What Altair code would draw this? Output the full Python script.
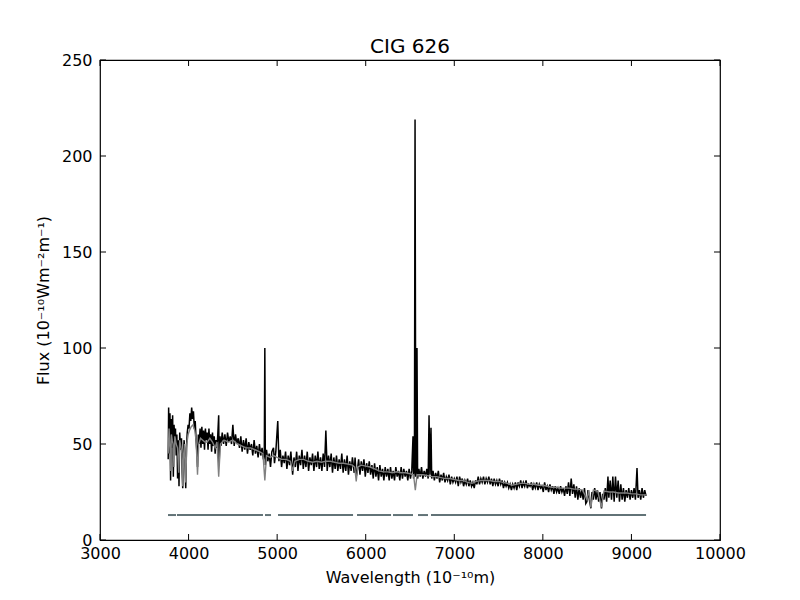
import altair as alt
import pandas as pd

# ---------------- data ----------------
obs_wave = [3770, 3775, 3782, 3790, 3797, 3805, 3812, 3820, 3828, 3836, 3845, 3852, 3860, 3868, 3876, 3884, 3892, 3900, 3910, 3920,
            3928, 3934, 3942, 3950, 3960, 3968, 3976, 3985, 3995, 4005, 4015, 4025, 4035, 4045, 4055, 4065, 4075, 4085, 4095, 4101,
            4110, 4120, 4130, 4140, 4150, 4160, 4170, 4180, 4190, 4200, 4210, 4220, 4230, 4240, 4250, 4260, 4270, 4280, 4290, 4300,
            4310, 4320, 4330, 4340, 4345, 4355, 4365, 4380, 4395, 4410, 4425, 4440, 4455, 4470, 4485, 4500, 4515, 4530, 4545, 4560,
            4575, 4590, 4605, 4620, 4635, 4650, 4665, 4680, 4695, 4710, 4725, 4740, 4755, 4770, 4785, 4800, 4815, 4830, 4845, 4855,
            4861, 4867, 4880, 4895, 4910, 4925, 4940, 4959, 4970, 4985, 5007, 5020, 5035, 5050, 5065, 5080, 5095, 5110, 5125, 5140,
            5155, 5175, 5190, 5205, 5220, 5235, 5250, 5265, 5280, 5295, 5310, 5325, 5340, 5355, 5370, 5385, 5400, 5415, 5430, 5445,
            5460, 5475, 5490, 5505, 5520, 5535, 5550, 5565, 5580, 5595, 5610, 5625, 5640, 5655, 5670, 5685, 5700, 5715, 5730, 5745,
            5760, 5775, 5790, 5805, 5820, 5835, 5850, 5870, 5880, 5893, 5905, 5920, 5935, 5950, 5965, 5980, 5995, 6010, 6025, 6040,
            6055, 6070, 6085, 6100, 6115, 6130, 6145, 6160, 6175, 6190, 6205, 6220, 6235, 6250, 6265, 6280, 6295, 6310, 6325, 6340,
            6355, 6370, 6385, 6400, 6415, 6430, 6445, 6460, 6475, 6490, 6505, 6520, 6534, 6540, 6550, 6557, 6565, 6572, 6579, 6586,
            6600, 6615, 6630, 6645, 6660, 6675, 6690, 6705, 6715, 6725, 6737, 6745, 6760, 6775, 6790, 6805, 6820, 6835, 6850, 6865,
            6880, 6895, 6910, 6925, 6940, 6955, 6970, 6985, 7000, 7015, 7030, 7045, 7060, 7075, 7090, 7105, 7120, 7135, 7150, 7165,
            7180, 7195, 7210, 7225, 7240, 7255, 7270, 7285, 7300, 7315, 7330, 7345, 7360, 7375, 7390, 7405, 7420, 7435, 7450, 7465,
            7480, 7495, 7510, 7525, 7540, 7555, 7570, 7585, 7600, 7615, 7630, 7645, 7660, 7675, 7690, 7705, 7720, 7735, 7750, 7765,
            7780, 7795, 7810, 7825, 7840, 7855, 7870, 7885, 7900, 7915, 7930, 7945, 7960, 7975, 7990, 8005, 8020, 8035, 8050, 8065,
            8080, 8095, 8110, 8125, 8140, 8155, 8170, 8185, 8200, 8215, 8230, 8245, 8260, 8275, 8290, 8305, 8320, 8335, 8350, 8365,
            8380, 8395, 8410, 8425, 8440, 8455, 8470, 8485, 8498, 8510, 8525, 8542, 8555, 8570, 8585, 8600, 8615, 8630, 8645, 8662,
            8675, 8690, 8705, 8720, 8735, 8745, 8760, 8775, 8790, 8805, 8820, 8835, 8850, 8865, 8880, 8895, 8910, 8925, 8940, 8955,
            8970, 8985, 9000, 9015, 9030, 9045, 9063, 9075, 9090, 9105, 9120, 9135, 9150, 9165]
obs_flux = [42, 69, 45, 66, 31, 63, 48, 65, 33, 60, 50, 58, 44, 55, 32, 52, 28, 56, 47, 53,
            35, 27, 45, 52, 40, 27, 48, 56, 60, 58, 66, 62, 69, 63, 67, 58, 62, 52, 45, 38,
            55, 50, 58, 48, 59, 50, 57, 47, 58, 52, 56, 47, 58, 50, 55, 46, 56, 49, 54, 45,
            52, 48, 55, 65, 40, 54, 49, 56, 50, 55, 49, 56, 51, 54, 50, 60, 49, 55, 50, 53,
            48, 54, 46, 52, 47, 53, 45, 51, 47, 50, 44, 52, 45, 49, 43, 50, 44, 48, 42, 45,
            100, 39, 47, 41, 45, 38, 46, 48, 40, 46, 62, 41, 47, 38, 44, 40, 46, 37, 44, 39,
            46, 34, 43, 38, 46, 36, 44, 39, 47, 37, 44, 38, 46, 36, 43, 39, 45, 36, 44, 38,
            46, 37, 43, 36, 45, 38, 57, 36, 44, 38, 45, 35, 43, 37, 44, 36, 42, 37, 45, 35,
            42, 36, 44, 34, 41, 36, 43, 35, 43, 33, 36, 42, 34, 41, 36, 42, 33, 40, 35, 41,
            34, 39, 32, 40, 33, 38, 31, 39, 33, 37, 31, 38, 33, 37, 31, 38, 32, 36, 31, 38,
            33, 36, 31, 38, 32, 37, 33, 36, 31, 37, 32, 36, 54, 32, 36, 219, 33, 37, 100, 32,
            37, 33, 38, 32, 36, 33, 37, 32, 65, 34, 58.5, 32, 36, 31, 35, 32, 36, 30, 34, 31,
            35, 30, 33, 31, 34, 29, 33, 30, 32, 30, 33, 28, 33, 30, 32, 28, 31, 29, 32, 28,
            31, 28, 30, 27, 31, 29, 33, 29, 32, 30, 33, 29, 32, 30, 33, 29, 32, 28, 32, 29,
            31, 28, 32, 29, 31, 27, 30, 28, 30, 27, 29, 26, 29, 27, 30, 26, 30, 28, 31, 27,
            30, 28, 31, 27, 29, 28, 30, 26, 29, 27, 30, 26, 29, 27, 28, 25, 30, 26, 28, 25,
            29, 26, 28, 24, 28, 25, 27, 24, 28, 25, 27, 23, 28, 24, 30, 23, 32, 24, 29, 22,
            28, 21, 27, 22, 26, 21, 27, 19, 20, 26, 21, 16.5, 25, 21, 27, 21, 26, 20, 25, 16.5,
            24, 21, 27, 20, 33, 22, 31, 21, 33, 20, 33, 22, 31, 20, 29, 21, 27, 20, 26, 22,
            27, 21, 26, 22, 27, 21, 37.5, 22, 26, 21, 27, 22, 26, 23]

mod_wave = [3770, 3780, 3790, 3798, 3806, 3815, 3825, 3835, 3845, 3860, 3875, 3889, 3900, 3915, 3925, 3934, 3945, 3955, 3968, 3980,
            3995, 4010, 4030, 4050, 4070, 4085, 4101, 4115, 4135, 4160, 4185, 4210, 4240, 4270, 4300, 4320, 4340, 4360, 4400, 4450,
            4500, 4550, 4600, 4650, 4700, 4750, 4800, 4840, 4861, 4880, 4920, 4960, 5000, 5050, 5100, 5150, 5175, 5200, 5250, 5300,
            5350, 5400, 5450, 5500, 5550, 5600, 5650, 5700, 5750, 5800, 5850, 5875, 5893, 5910, 5950, 6000, 6050, 6100, 6150, 6200,
            6250, 6300, 6350, 6400, 6450, 6500, 6540, 6560, 6580, 6650, 6700, 6750, 6800, 6850, 6900, 6950, 7000, 7050, 7100, 7150,
            7200, 7250, 7300, 7350, 7400, 7450, 7500, 7550, 7600, 7650, 7700, 7750, 7800, 7850, 7900, 7950, 8000, 8050, 8100, 8150,
            8200, 8250, 8300, 8350, 8400, 8450, 8498, 8520, 8542, 8570, 8620, 8662, 8690, 8750, 8800, 8850, 8900, 8950, 9000, 9050,
            9100, 9165]
mod_flux = [45, 58, 48, 36, 55, 52, 50, 38, 54, 50, 48, 35, 52, 48, 45, 28, 45, 50, 30, 50,
            55, 57, 59, 60, 57, 52, 34, 50, 53, 52, 51, 51, 53, 51, 48, 51, 33, 50, 52, 51,
            52, 50, 49, 48, 48, 47, 46, 45, 31, 44, 43, 44, 43, 42, 42, 41, 36, 41, 42, 42,
            41, 40.5, 41, 40.5, 41, 41, 40.5, 40, 40, 39.5, 39, 38, 30.5, 38, 39, 38.5, 38, 37, 36, 35.5,
            35.5, 35, 35.5, 35, 35, 34.5, 34, 26, 34, 34, 33.5, 33, 33, 32.5, 32, 32, 31.5, 31, 31, 30,
            29.5, 30.5, 31, 31, 31, 30.5, 30.5, 30, 29.5, 28.5, 29, 29.5, 29.5, 29, 29, 28.5, 28.5, 28, 27.5, 27.5,
            27, 27, 27, 26.5, 26.5, 26, 21, 26, 17, 26, 25.5, 17, 25.5, 25, 25, 24.5, 24.5, 24.5, 24, 24,
            23.5, 23.5]

# fitting-window segments drawn at a constant level
seg_start = [3768, 3869, 4863, 5010, 5902, 6308, 6590, 6737]
seg_end = [3858, 4840, 4931, 5857, 6286, 6534, 6703, 9165]
seg_level = 13

x_ticks = [3000, 4000, 5000, 6000, 7000, 8000, 9000, 10000]
y_ticks = [0, 50, 100, 150, 200, 250]

title_text = "CIG 626"
x_title = "Wavelength (10\u207b\u00b9\u2070m)"
y_title = "Flux (10\u207b\u00b9\u2070Wm\u207b\u00b2m\u207b\u00b9)"

# ---------------- chart ----------------
W, H = 620, 480
FONT = "DejaVu Sans"

obs = pd.DataFrame({"wave": obs_wave, "flux": obs_flux, "order": range(len(obs_wave))})
mod = pd.DataFrame({"wave": mod_wave, "flux": mod_flux, "order": range(len(mod_wave))})
segs = pd.DataFrame({"start": seg_start, "end": seg_end, "level": [seg_level] * len(seg_start)})
xt = pd.DataFrame({"v": x_ticks})
yt = pd.DataFrame({"v": y_ticks})

xscale = alt.Scale(domain=[3000, 10000], nice=False, zero=False)
yscale = alt.Scale(domain=[0, 250], nice=False)

xaxis = alt.Axis(values=x_ticks, format="d", title=x_title, labelFont=FONT, titleFont=FONT,
                 labelFontSize=16, titleFontSize=16, titleFontWeight="normal", labelColor="black",
                 titleColor="black", tickSize=0, labelPadding=5, titlePadding=8, domain=False,
                 grid=False, labelFlush=False)
yaxis = alt.Axis(values=y_ticks, format="d", title=y_title, labelFont=FONT, titleFont=FONT,
                 labelFontSize=16, titleFontSize=16, titleFontWeight="normal", labelColor="black",
                 titleColor="black", tickSize=0, labelPadding=8, titlePadding=10, domain=False,
                 grid=False, labelFlush=False)

base_obs = alt.Chart(obs).mark_line(color="black", strokeWidth=1.5, clip=True).encode(
    x=alt.X("wave:Q", scale=xscale, axis=xaxis),
    y=alt.Y("flux:Q", scale=yscale, axis=yaxis),
    order="order:Q",
)
model_line = alt.Chart(mod).mark_line(color="#808080", strokeWidth=1.4, clip=True).encode(
    x=alt.X("wave:Q", scale=xscale),
    y=alt.Y("flux:Q", scale=yscale),
    order="order:Q",
)
seg_rules = alt.Chart(segs).mark_rule(color="#627377", strokeWidth=2).encode(
    x=alt.X("start:Q", scale=xscale),
    x2="end:Q",
    y=alt.Y("level:Q", scale=yscale),
)

TL = 6
xticks_bottom = alt.Chart(xt).mark_rule(color="black", strokeWidth=1).encode(
    x=alt.X("v:Q", scale=xscale), y=alt.value(H), y2=alt.value(H - TL))
xticks_top = alt.Chart(xt).mark_rule(color="black", strokeWidth=1).encode(
    x=alt.X("v:Q", scale=xscale), y=alt.value(0), y2=alt.value(TL))
yticks_left = alt.Chart(yt).mark_rule(color="black", strokeWidth=1).encode(
    y=alt.Y("v:Q", scale=yscale), x=alt.value(0), x2=alt.value(TL))
yticks_right = alt.Chart(yt).mark_rule(color="black", strokeWidth=1).encode(
    y=alt.Y("v:Q", scale=yscale), x=alt.value(W), x2=alt.value(W - TL))

chart = alt.layer(
    base_obs, model_line, seg_rules, xticks_bottom, xticks_top, yticks_left, yticks_right
).properties(
    width=W, height=H,
    title=alt.TitleParams(title_text, font=FONT, fontSize=20, fontWeight="normal", color="black", offset=-5),
    autosize=alt.AutoSizeParams(type="none"),
    padding={"left": 92, "top": 52, "right": 72, "bottom": 52},
    background="white",
).configure_view(
    stroke="black", strokeWidth=1.2
)

chart.save("out.html", embed_options={"renderer": "svg", "actions": False})
